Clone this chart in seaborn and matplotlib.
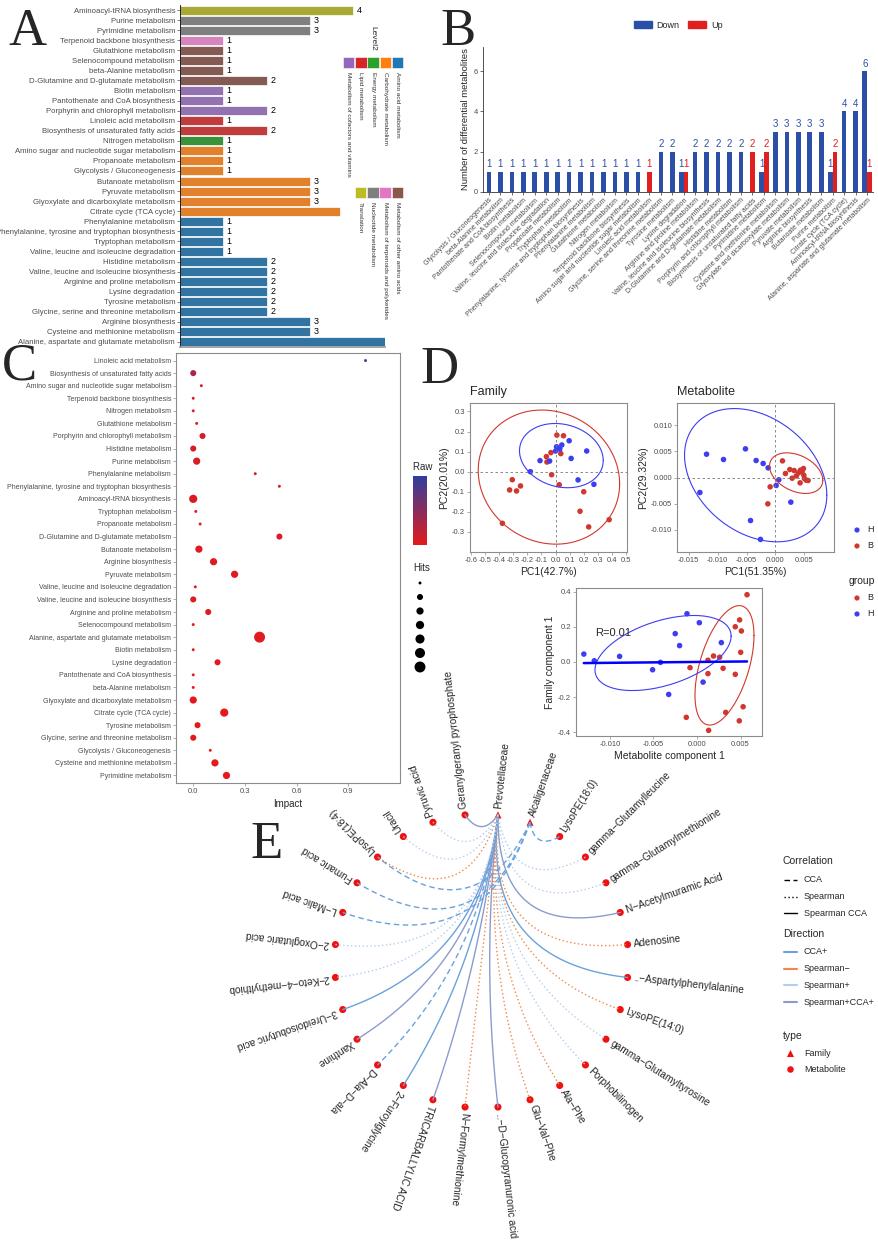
import numpy as np
import pandas as pd
import seaborn as sns
import matplotlib
matplotlib.use("Agg")
import matplotlib.pyplot as plt
from matplotlib.colors import LinearSegmentedColormap, Normalize
from matplotlib.cm import ScalarMappable
from matplotlib.patches import Rectangle, Patch

W, H = 879, 1256

# ---------------- data: panel A ----------------
a_pathways = ["Aminoacyl-tRNA biosynthesis", "Purine metabolism", "Pyrimidine metabolism",
              "Terpenoid backbone biosynthesis", "Glutathione metabolism", "Selenocompound metabolism",
              "beta-Alanine metabolism", "D-Glutamine and D-glutamate metabolism", "Biotin metabolism",
              "Pantothenate and CoA biosynthesis", "Porphyrin and chlorophyll metabolism",
              "Linoleic acid metabolism", "Biosynthesis of unsaturated fatty acids", "Nitrogen metabolism",
              "Amino sugar and nucleotide sugar metabolism", "Propanoate metabolism",
              "Glycolysis / Gluconeogenesis", "Butanoate metabolism", "Pyruvate metabolism",
              "Glyoxylate and dicarboxylate metabolism", "Citrate cycle (TCA cycle)",
              "Phenylalanine metabolism", "Phenylalanine, tyrosine and tryptophan biosynthesis",
              "Tryptophan metabolism", "Valine, leucine and isoleucine degradation", "Histidine metabolism",
              "Valine, leucine and isoleucine biosynthesis", "Arginine and proline metabolism",
              "Lysine degradation", "Tyrosine metabolism", "Glycine, serine and threonine metabolism",
              "Arginine biosynthesis", "Cysteine and methionine metabolism",
              "Alanine, aspartate and glutamate metabolism"]
a_counts = [4, 3, 3, 1, 1, 1, 1, 2, 1, 1, 2, 1, 2, 1, 1, 1, 1, 3, 3, 3, 3.7,
            1, 1, 1, 1, 2, 2, 2, 2, 2, 2, 3, 3, 6]
a_labels = ["4", "3", "3", "1", "1", "1", "1", "2", "1", "1", "2", "1", "2", "1", "1", "1", "1",
            "3", "3", "3", "", "1", "1", "1", "1", "2", "2", "2", "2", "2", "2", "3", "3", ""]
a_level2 = (["Translation"] + ["Nucleotide metabolism"] * 2 + ["Metabolism of terpenoids and polyketides"]
            + ["Metabolism of other amino acids"] * 4 + ["Metabolism of cofactors and vitamins"] * 3
            + ["Lipid metabolism"] * 2 + ["Energy metabolism"] + ["Carbohydrate metabolism"] * 7
            + ["Amino acid metabolism"] * 13)
level2_colors = {"Amino acid metabolism": "#1f77b4", "Carbohydrate metabolism": "#ff7f0e",
                 "Energy metabolism": "#2ca02c", "Lipid metabolism": "#d62728",
                 "Metabolism of cofactors and vitamins": "#9467bd",
                 "Metabolism of other amino acids": "#8c564b",
                 "Metabolism of terpenoids and polyketides": "#e377c2",
                 "Nucleotide metabolism": "#7f7f7f", "Translation": "#bcbd22"}
legend_row1 = ["Metabolism of cofactors and vitamins", "Lipid metabolism", "Energy metabolism",
               "Carbohydrate metabolism", "Amino acid metabolism"]
legend_row2 = ["Translation", "Nucleotide metabolism", "Metabolism of terpenoids and polyketides",
               "Metabolism of other amino acids"]

# ---------------- data: panel B ----------------
b_pathways = ["Glycolysis / Gluconeogenesis", "beta-Alanine metabolism", "Pantothenate and CoA biosynthesis",
              "Biotin metabolism", "Selenocompound metabolism", "Valine, leucine and isoleucine degradation",
              "Propanoate metabolism", "Tryptophan metabolism",
              "Phenylalanine, tyrosine and tryptophan biosynthesis", "Phenylalanine metabolism",
              "Glutathione metabolism", "Nitrogen metabolism", "Terpenoid backbone biosynthesis",
              "Amino sugar and nucleotide sugar metabolism", "Linoleic acid metabolism",
              "Glycine, serine and threonine metabolism", "Tyrosine metabolism", "Lysine degradation",
              "Arginine and proline metabolism", "Valine, leucine and isoleucine biosynthesis",
              "D-Glutamine and D-glutamate metabolism", "Histidine metabolism",
              "Porphyrin and chlorophyll metabolism", "Biosynthesis of unsaturated fatty acids",
              "Pyrimidine metabolism", "Cysteine and methionine metabolism",
              "Glyoxylate and dicarboxylate metabolism", "Pyruvate metabolism", "Arginine biosynthesis",
              "Butanoate metabolism", "Purine metabolism", "Citrate cycle (TCA cycle)",
              "Aminoacyl-tRNA biosynthesis", "Alanine, aspartate and glutamate metabolism"]
b_down = [1] * 14 + [0, 2, 2, 1, 2, 2, 2, 2, 2, 0, 1, 3, 3, 3, 3, 3, 1, 4, 4, 6]
b_up = [0] * 14 + [1, 0, 0, 1, 0, 0, 0, 0, 0, 2, 2, 0, 0, 0, 0, 0, 2, 0, 0, 1]

# ---------------- data: panel C ----------------
c_pathways = ["Linoleic acid metabolism", "Biosynthesis of unsaturated fatty acids",
              "Amino sugar and nucleotide sugar metabolism", "Terpenoid backbone biosynthesis",
              "Nitrogen metabolism", "Glutathione metabolism", "Porphyrin and chlorophyll metabolism",
              "Histidine metabolism", "Purine metabolism", "Phenylalanine metabolism",
              "Phenylalanine, tyrosine and tryptophan biosynthesis", "Aminoacyl-tRNA biosynthesis",
              "Tryptophan metabolism", "Propanoate metabolism", "D-Glutamine and D-glutamate metabolism",
              "Butanoate metabolism", "Arginine biosynthesis", "Pyruvate metabolism",
              "Valine, leucine and isoleucine degradation", "Valine, leucine and isoleucine biosynthesis",
              "Arginine and proline metabolism", "Selenocompound metabolism",
              "Alanine, aspartate and glutamate metabolism", "Biotin metabolism", "Lysine degradation",
              "Pantothenate and CoA biosynthesis", "beta-Alanine metabolism",
              "Glyoxylate and dicarboxylate metabolism", "Citrate cycle (TCA cycle)", "Tyrosine metabolism",
              "Glycine, serine and threonine metabolism", "Glycolysis / Gluconeogenesis",
              "Cysteine and methionine metabolism", "Pyrimidine metabolism"]
c_impact = [1.0, 0.0, 0.047, 0.0, 0.0, 0.02, 0.054, 0.0, 0.02, 0.36, 0.5, 0.0, 0.015, 0.04, 0.5,
            0.033, 0.118, 0.24, 0.012, 0.0, 0.087, 0.0, 0.385, 0.0, 0.141, 0.0, 0.0, 0.0, 0.18,
            0.025, 0.0, 0.099, 0.126, 0.193]
c_hits = [1, 2, 1, 1, 1, 1, 2, 2, 3, 1, 1, 4, 1, 1, 2, 3, 3, 3, 1, 2, 2, 1, 7, 1, 2, 1, 1, 3, 4,
          2, 2, 1, 3, 3]
c_rawp = [0.95, 0.32, 0.12, 0.11, 0.1, 0.09, 0.085, 0.08, 0.075, 0.07, 0.065, 0.06, 0.055, 0.05,
          0.045, 0.04, 0.036, 0.032, 0.03, 0.027, 0.024, 0.021, 0.018, 0.016, 0.014, 0.012, 0.01,
          0.008, 0.006, 0.005, 0.004, 0.003, 0.002, 0.001]
hits_levels = [1, 2, 3, 4, 5, 6, 7]
hits_sizes = {1: 4.5, 2: 19, 3: 27, 4: 35, 5: 43, 6: 52, 7: 62}

# ---------------- data: panel D ----------------
fam_b_pc1 = [0.009, 0.056, -0.033, -0.065, -0.061, 0.037, -0.028, 0.026, -0.306, -0.325, -0.276,
             -0.248, -0.376, 0.199, 0.173, 0.234, 0.379]
fam_b_pc2 = [0.182, 0.179, 0.095, 0.075, 0.048, 0.090, -0.015, -0.065, -0.040, -0.091, -0.096,
             -0.071, -0.257, -0.100, -0.197, -0.275, -0.239]
fam_h_pc1 = [0.007, 0.030, 0.044, 0.096, 0.0, -0.110, -0.042, -0.178, 0.110, 0.220, 0.159, 0.271]
fam_h_pc2 = [0.124, 0.113, 0.133, 0.154, 0.103, 0.055, 0.053, 0.0, 0.066, 0.103, -0.041, -0.063]
fam_ell_b = [-0.047, -0.027, 0.50, 0.334, -0.1]
fam_ell_h = [0.041, 0.080, 0.296, 0.16, -0.15]

met_b_pc1 = [0.00121, 0.00172, 0.00247, 0.00322, 0.00288, 0.00431, 0.00483, 0.00489, 0.00529,
             0.00425, 0.00563, -0.00092, -0.00132, 0.0040, 0.0046, 0.0036, 0.0050]
met_b_pc2 = [0.00317, 0.00076, 0.00152, 0.00133, -0.00013, 0.0014, 0.00171, 0.00044, -0.0005,
             -0.00102, -0.00057, -0.00178, -0.00502, 0.0009, 0.0012, 0.0003, -0.0002]
met_h_pc1 = [-0.01305, -0.0119, -0.00897, -0.00518, -0.00334, -0.00213, -0.00127, 0.000575,
             0.000115, 0.00265, -0.00431, -0.00259]
met_h_pc2 = [-0.00286, 0.00444, 0.00343, 0.00546, 0.00324, 0.00267, 0.00184, -0.00044, -0.00152,
             -0.0047, -0.0082, -0.0118]
met_ell_b = [0.00357, 0.00083, 0.0046, 0.00387, -0.35]
met_ell_h = [-0.00342, 0.00044, 0.01228, 0.0127, -0.3]

cca_h_x = [-0.0130, -0.0118, -0.00889, -0.0051, -0.0042, -0.00325, -0.0025, -0.0020, -0.00115,
           0.00027, 0.0007, 0.0028]
cca_h_y = [0.045, 0.007, 0.032, -0.044, -0.002, -0.184, 0.161, 0.093, 0.274, 0.223, -0.114, 0.11]
cca_b_x = [0.00575, 0.0049, 0.0044, 0.0051, 0.00502, 0.0044, 0.0030, 0.0026, 0.0019, 0.00126,
           0.00126, -0.0008, 0.0053, -0.00123, 0.00134, 0.0033, 0.00486]
cca_b_y = [0.382, 0.239, 0.2, 0.176, 0.055, -0.07, -0.036, 0.027, 0.034, 0.01, -0.066, -0.032,
           -0.254, -0.314, -0.388, -0.286, -0.334]
cca_ell_b = [0.00316, -0.019, 0.00339, 0.339, 0.5]
cca_ell_h = [-0.0039, 0.051, 0.00782, 0.213, 0.45]
cca_fit_slope, cca_fit_intercept = 0.49, 0.0003

# ---------------- data: panel E ----------------
e_nodes = ["Prevotellaceae", "Alcaligenaceae", "LysoPE(18:0)", "gamma−Glutamylleucine",
           "gamma−Glutamylmethionine", "N−Acetylmuramic Acid", "Adenosine", "..−Aspartylphenylalanine",
           "LysoPE(14:0)", "gamma−Glutamyltyrosine", "Porphobilinogen", "Ala−Phe", "Glu−Val−Phe",
           "..−D−Glucopyranuronic acid", "N−Formylmethionine", "TRICARBALLYLIC ACID", "2−Furoylglycine",
           "D−Ala−D−ala", "Xanthine", "3−Ureidoisobutyric acid", "2−Keto−4−methylthiob",
           "2−Oxoglutaric acid", "L−Malic acid", "Fumaric acid", "LysoPE(18:4)", "Uracil",
           "Pyruvic acid", "Geranylgeranyl pyrophosphate"]
e_types = ["Family"] * 2 + ["Metabolite"] * 26
P, A = "Prevotellaceae", "Alcaligenaceae"
e_from = [P, A, P, P, P, P, P, P, P, P, P, P, P, P, P, P, P, P, P, P, P, A, A, P, A, P, P]
e_to = ["Geranylgeranyl pyrophosphate", "LysoPE(18:0)", "gamma−Glutamylleucine",
        "gamma−Glutamylmethionine", "N−Acetylmuramic Acid", "Adenosine", "..−Aspartylphenylalanine",
        "LysoPE(14:0)", "gamma−Glutamyltyrosine", "Porphobilinogen", "Ala−Phe", "Glu−Val−Phe",
        "..−D−Glucopyranuronic acid", "N−Formylmethionine", "TRICARBALLYLIC ACID", "2−Furoylglycine",
        "D−Ala−D−ala", "Xanthine", "3−Ureidoisobutyric acid", "2−Keto−4−methylthiob",
        "2−Oxoglutaric acid", "L−Malic acid", "Fumaric acid", "LysoPE(18:4)", "LysoPE(18:4)",
        "Uracil", "Pyruvic acid"]
e_corr = ["Spearman CCA", "CCA", "Spearman", "Spearman", "Spearman CCA", "Spearman", "Spearman CCA",
          "Spearman", "Spearman", "Spearman", "Spearman", "Spearman", "Spearman CCA", "Spearman",
          "Spearman CCA", "Spearman CCA", "CCA", "Spearman CCA", "Spearman CCA", "Spearman",
          "Spearman", "CCA", "CCA", "Spearman", "CCA", "Spearman", "Spearman"]
e_dir = ["Spearman+CCA+", "CCA+", "Spearman+", "Spearman+", "Spearman+CCA+", "Spearman−", "CCA+",
         "Spearman−", "Spearman+", "Spearman+", "Spearman−", "Spearman−", "Spearman+CCA+", "Spearman−",
         "Spearman+CCA+", "CCA+", "CCA+", "Spearman+CCA+", "CCA+", "Spearman+", "Spearman+", "CCA+",
         "CCA+", "Spearman−", "CCA+", "Spearman+", "Spearman+"]
corr_levels = ["CCA", "Spearman", "Spearman CCA"]
dir_levels = ["CCA+", "Spearman−", "Spearman+", "Spearman+CCA+"]
corr_styles = {"CCA": (0, (4, 2.5)), "Spearman": (0, (1, 1.8)), "Spearman CCA": "-"}
dir_colors = {"CCA+": "#6aa2dc", "Spearman−": "#f0884a", "Spearman+": "#b3cfee",
              "Spearman+CCA+": "#8c9bcf"}

# ---------------- style ----------------
sns.set_theme(style="white")
plt.rcParams["font.family"] = ["Liberation Sans", "DejaVu Sans"]
txt_gray = "#4d4d4d"
frame_gray = "#8c8c8c"
red_grp, blue_grp = "#d0372f", "#3d3df2"
grp_colors = {"B": red_grp, "H": blue_grp}
p_cmap = LinearSegmentedColormap.from_list("rawp", ["#e41a1c", "#2f3f9f"])

fig = plt.figure(figsize=(W / 100, H / 100), dpi=100)
fig.patch.set_facecolor("white")


def px_axes(x0, y0, x1, y1):
    return fig.add_axes([x0 / W, 1 - y1 / H, (x1 - x0) / W, (y1 - y0) / H])


def ellipse_xy(cx, cy, rx, ry, rho):
    t = np.linspace(0, 2 * np.pi, 200)
    return cx + rx * np.cos(t), cy + ry * np.cos(t + np.arccos(rho))


def frame(ax):
    for s in ax.spines.values():
        s.set_visible(True)
        s.set_color(frame_gray)
        s.set_linewidth(0.8)
    ax.tick_params(labelcolor=txt_gray, color=frame_gray, length=2, width=0.5,
                   bottom=True, left=True, pad=1.5)


# ---------------- panel A ----------------
axA = px_axes(180, 5, 385, 347)
dfA = pd.DataFrame({"pathway": a_pathways, "count": a_counts, "level2": a_level2})
sns.barplot(data=dfA, x="count", y="pathway", hue="level2", palette=level2_colors, dodge=False,
            width=0.9, edgecolor="white", linewidth=0.5, errorbar=None, legend=False, ax=axA)
axA.set_xlim(0, 4.73)
axA.set_ylim(33.5, -0.5)
for yi, (c, lab) in enumerate(zip(a_counts, a_labels)):
    if lab:
        axA.text(c + 0.08, yi, lab, va="center", ha="left", fontsize=6.5, color="black")
axA.set_xlabel("")
axA.set_ylabel("")
axA.set_xticks([])
axA.tick_params(axis="y", labelsize=5.6, labelcolor=txt_gray, length=2, width=0.5,
                color=txt_gray, pad=1.5, left=True)
axA.spines["top"].set_visible(False)
axA.spines["right"].set_visible(False)
axA.spines["left"].set_color("black")
axA.spines["left"].set_linewidth(0.6)
axA.spines["bottom"].set_color("#999999")

# ---------------- panel B ----------------
axB = px_axes(483, 47, 873, 192)
xb = np.arange(len(b_pathways))
down = np.array(b_down)
up = np.array(b_up)
off = np.where((down > 0) & (up > 0), 0.2, 0.0)
down_col, up_col = "#2b4ea6", "#e0201e"
for vals, sign, col in [(down, -1, down_col), (up, 1, up_col)]:
    m = vals > 0
    xs = xb[m] + sign * off[m]
    axB.bar(xs, vals[m], width=0.4, color=col, linewidth=0)
    for xi, vi in zip(xs, vals[m]):
        axB.text(xi, vi + 0.12, str(vi), ha="center", va="bottom", color=col, fontsize=7)
axB.set_xlim(-0.52, 33.52)
axB.set_ylim(0, 7.2)
axB.set_yticks([0, 2, 4, 6])
axB.set_xticks(xb)
axB.set_xticklabels(b_pathways, rotation=45, ha="right", rotation_mode="anchor", fontsize=5.0)
axB.tick_params(axis="both", labelcolor=txt_gray, length=2, width=0.5, color="#333333",
                bottom=True, left=True, pad=1.5)
axB.tick_params(axis="y", labelsize=5.5)
axB.set_ylabel("Number of differential metabolites", fontsize=6.8, labelpad=3)
axB.spines["top"].set_visible(False)
axB.spines["right"].set_visible(False)
for s in ["left", "bottom"]:
    axB.spines[s].set_color("#333333")
    axB.spines[s].set_linewidth(0.6)
fig.legend(handles=[Patch(color=down_col, label="Down"), Patch(color=up_col, label="Up")],
           loc="center", bbox_to_anchor=(678 / W, 1 - 25 / H), ncol=2, frameon=False, fontsize=6.5,
           handlelength=2.0, handleheight=0.8, columnspacing=1.0, handletextpad=0.5)

# ---------------- panel C ----------------
axC = px_axes(176, 353, 400, 783)
dfC = pd.DataFrame({"pathway": c_pathways, "impact": c_impact, "hits": c_hits, "rawp": c_rawp})
sns.scatterplot(data=dfC, x="impact", y="pathway", hue="rawp", hue_norm=(0, 1), palette=p_cmap,
                size="hits", sizes=hits_sizes, legend=False, edgecolor="none", ax=axC)
axC.set_xlim(-0.1, 1.2)
axC.set_ylim(33.6, -0.6)
axC.set_xticks([0, 0.3, 0.6, 0.9])
axC.set_xticklabels(["0.0", "0.3", "0.6", "0.9"])
frame(axC)
axC.tick_params(axis="y", labelsize=5.0)
axC.tick_params(axis="x", labelsize=5.5)
axC.set_ylabel("")
axC.set_xlabel("Impact", fontsize=7, labelpad=3)

cax = px_axes(413, 476, 427, 545)
cb = fig.colorbar(ScalarMappable(Normalize(0, 1), p_cmap), cax=cax)
cb.outline.set_visible(False)
cb.set_ticks([0.2, 0.4, 0.6, 0.8])
cax.tick_params(axis="y", direction="in", length=3, width=0.6, color="white",
                labelright=False, labelleft=False, right=True, left=True)
tax = px_axes(405, 458, 433, 475)
tax.axis("off")
tax.text(8 / 28, 0.5, "Raw p", transform=tax.transAxes, fontsize=7, va="center", ha="left",
         clip_on=True)

# ---------------- panel D ----------------
def pca_panel(ax, bx, by, hx, hy, ell_b, ell_h):
    df = pd.DataFrame({"x": bx + hx, "y": by + hy, "group": ["B"] * len(bx) + ["H"] * len(hx)})
    ax.axhline(0, ls=(0, (3, 3)), color="#777777", lw=0.6)
    ax.axvline(0, ls=(0, (3, 3)), color="#777777", lw=0.6)
    sns.scatterplot(data=df, x="x", y="y", hue="group", palette=grp_colors, s=16,
                    edgecolor="none", legend=False, ax=ax)
    for ell, col in [(ell_b, red_grp), (ell_h, blue_grp)]:
        ex, ey = ellipse_xy(*ell)
        ax.plot(ex, ey, color=col, lw=0.8)
    frame(ax)
    ax.tick_params(labelsize=5.5)


axF = px_axes(470, 403, 627, 552)
pca_panel(axF, fam_b_pc1, fam_b_pc2, fam_h_pc1, fam_h_pc2, fam_ell_b, fam_ell_h)
axF.set_xlim(-0.605, 0.505)
axF.set_ylim(-0.40, 0.342)
fx_ticks = [-0.6, -0.5, -0.4, -0.3, -0.2, -0.1, 0.0, 0.1, 0.2, 0.3, 0.4, 0.5]
axF.set_xticks(fx_ticks)
axF.set_xticklabels([f"{v:.1f}" for v in fx_ticks])
fy_ticks = [-0.3, -0.2, -0.1, 0.0, 0.1, 0.2, 0.3]
axF.set_yticks(fy_ticks)
axF.set_yticklabels([f"{v:.1f}" for v in fy_ticks])
axF.set_xlabel("PC1(42.7%)", fontsize=7.5, labelpad=2)
axF.set_ylabel("PC2(20.01%)", fontsize=7.5, labelpad=2)
axF.set_title("Family", loc="left", fontsize=9, pad=6)

axM = px_axes(677, 403, 834, 552)
pca_panel(axM, met_b_pc1, met_b_pc2, met_h_pc1, met_h_pc2, met_ell_b, met_ell_h)
axM.set_xlim(-0.0170, 0.0101)
axM.set_ylim(-0.0142, 0.0142)
mx_ticks = [-0.015, -0.010, -0.005, 0.0, 0.005]
axM.set_xticks(mx_ticks)
axM.set_xticklabels([f"{v:.3f}" for v in mx_ticks])
my_ticks = [-0.010, -0.005, 0.0, 0.005, 0.010]
axM.set_yticks(my_ticks)
axM.set_yticklabels([f"{v:.3f}" for v in my_ticks])
axM.set_xlabel("PC1(51.35%)", fontsize=7.5, labelpad=2)
axM.set_ylabel("PC2(29.32%)", fontsize=7.5, labelpad=2)
axM.set_title("Metabolite", loc="left", fontsize=9, pad=6)

axK = px_axes(576, 588, 762, 736)
dfK = pd.DataFrame({"x": cca_b_x + cca_h_x, "y": cca_b_y + cca_h_y,
                    "group": ["B"] * len(cca_b_x) + ["H"] * len(cca_h_x)})
sns.scatterplot(data=dfK, x="x", y="y", hue="group", palette=grp_colors, s=16, edgecolor="none",
                legend=False, ax=axK)
for ell, col in [(cca_ell_b, red_grp), (cca_ell_h, blue_grp)]:
    ex, ey = ellipse_xy(*ell)
    axK.plot(ex, ey, color=col, lw=0.8)
fit_x = np.array([dfK["x"].min(), dfK["x"].max()])
sns.lineplot(x=fit_x, y=cca_fit_slope * fit_x + cca_fit_intercept, color="#0000ff", lw=1.8, ax=axK)
axK.text(-0.0117, 0.165, "R=0.01", fontsize=8, ha="left", va="center")
frame(axK)
axK.tick_params(labelsize=5.5)
axK.set_xlim(-0.0139, 0.00747)
axK.set_ylim(-0.42, 0.42)
kx_ticks = [-0.010, -0.005, 0.0, 0.005]
axK.set_xticks(kx_ticks)
axK.set_xticklabels([f"{v:.3f}" for v in kx_ticks])
ky_ticks = [-0.4, -0.2, 0.0, 0.2, 0.4]
axK.set_yticks(ky_ticks)
axK.set_yticklabels([f"{v:.1f}" for v in ky_ticks])
axK.set_xlabel("Metabolite component 1", fontsize=7.5, labelpad=2)
axK.set_ylabel("Family component 1", fontsize=7.5, labelpad=2)

# ---------------- overlay (panel E, legends, letters) ----------------
ov = fig.add_axes([0, 0, 1, 1])
ov.set_zorder(10)
ov.set_facecolor("none")
ov.axis("off")

# level2 legend of panel A
ov.text(373, 38, "Level2", rotation=-90, ha="center", va="center", fontsize=6)
for k, name in enumerate(legend_row1):
    x0 = 343 + 12.2 * k
    ov.add_patch(Rectangle((x0, 57), 11.5, 11, facecolor=level2_colors[name], edgecolor="white", lw=0.4))
    ov.text(x0 + 5.8, 72, name, rotation=-90, ha="center", va="top", fontsize=4.6, color="#333333")
for k, name in enumerate(legend_row2):
    x0 = 355 + 12.2 * k
    ov.add_patch(Rectangle((x0, 187), 11.5, 11, facecolor=level2_colors[name], edgecolor="white", lw=0.4))
    ov.text(x0 + 5.8, 202, name, rotation=-90, ha="center", va="top", fontsize=4.6, color="#333333")

# hits legend of panel C
ov.text(413, 568, "Hits", fontsize=7, va="center", ha="left")
ov.scatter([420] * len(hits_levels), [583 + 14 * k for k in range(len(hits_levels))],
           s=[hits_sizes[h] for h in hits_levels], color="black", linewidths=0)

# group legends of panel D
ov.scatter([857, 857], [530, 546], color=[blue_grp, red_grp], s=14, linewidths=0)
ov.text(867, 530, "H", fontsize=6.5, va="center")
ov.text(867, 546, "B", fontsize=6.5, va="center")
ov.text(849, 581, "group", fontsize=7.5, va="center")
ov.scatter([857, 857], [598, 614], color=[red_grp, blue_grp], s=14, linewidths=0)
ov.text(867, 598, "B", fontsize=6.5, va="center")
ov.text(867, 614, "H", fontsize=6.5, va="center")

# network of panel E (circular layout)
n = len(e_nodes)
ang = np.deg2rad(90 - 180 / n - np.arange(n) * 360 / n)
cx, cy, R = 481.5, 961.0, 147.0
nx = cx + R * np.cos(ang)
ny = cy - R * np.sin(ang)
idx = {name: i for i, name in enumerate(e_nodes)}
centre = np.array([cx, cy])
tt = np.linspace(0, 1, 120)[:, None]
for f, t, c, d in zip(e_from, e_to, e_corr, e_dir):
    i, j = idx[f], idx[t]
    steps = min(abs(i - j), n - abs(i - j))
    s = min(1.0, 0.16 * steps)
    p0 = np.array([nx[i], ny[i]])
    p2 = np.array([nx[j], ny[j]])
    mid = (p0 + p2) / 2
    ctrl = mid + s * (centre - mid)
    pts = (1 - tt) ** 2 * p0 + 2 * tt * (1 - tt) * ctrl + tt ** 2 * p2
    ov.plot(pts[:, 0], pts[:, 1], color=dir_colors[d], ls=corr_styles[c], lw=1.0)

dfE = pd.DataFrame({"x": nx, "y": ny, "type": e_types})
sns.scatterplot(data=dfE, x="x", y="y", style="type", markers={"Family": "^", "Metabolite": "o"},
                color="#f01010", s=26, edgecolor="none", legend=False, ax=ov)
for i, name in enumerate(e_nodes):
    ov.text(cx + (R + 6) * np.cos(ang[i]), cy - (R + 6) * np.sin(ang[i]), name,
            rotation=np.rad2deg(ang[i]), rotation_mode="anchor", ha="left", va="center", fontsize=7.3)

# legend of panel E
ov.text(783, 861, "Correlation", fontsize=7.5, va="center")
for k, lab in enumerate(corr_levels):
    y = 880 + 16.5 * k
    ov.plot([784, 797], [y, y], color="black", ls=corr_styles[lab], lw=1.0)
    ov.text(804, y, lab, fontsize=6.5, va="center")
ov.text(783, 934, "Direction", fontsize=7.5, va="center")
for k, lab in enumerate(dir_levels):
    y = 952 + 16.7 * k
    ov.plot([784, 797], [y, y], color=dir_colors[lab], lw=1.5)
    ov.text(804, y, lab, fontsize=6.5, va="center")
ov.text(783, 1036, "type", fontsize=7.5, va="center")
ov.scatter([790], [1053], marker="^", color="#f01010", s=26, linewidths=0)
ov.text(804, 1053, "Family", fontsize=6.5, va="center")
ov.scatter([790], [1069], marker="o", color="#f01010", s=22, linewidths=0)
ov.text(804, 1069, "Metabolite", fontsize=6.5, va="center")

# panel letters
for letter, (lx, ly) in {"A": (9, 45), "B": (440, 45), "C": (2, 380), "D": (420, 383),
                         "E": (250, 858)}.items():
    ov.text(lx, ly, letter, fontsize=38, family="Liberation Serif", ha="left", va="baseline")

ov.set_xlim(0, W)
ov.set_ylim(H, 0)

fig.savefig("out.png", dpi=100)
